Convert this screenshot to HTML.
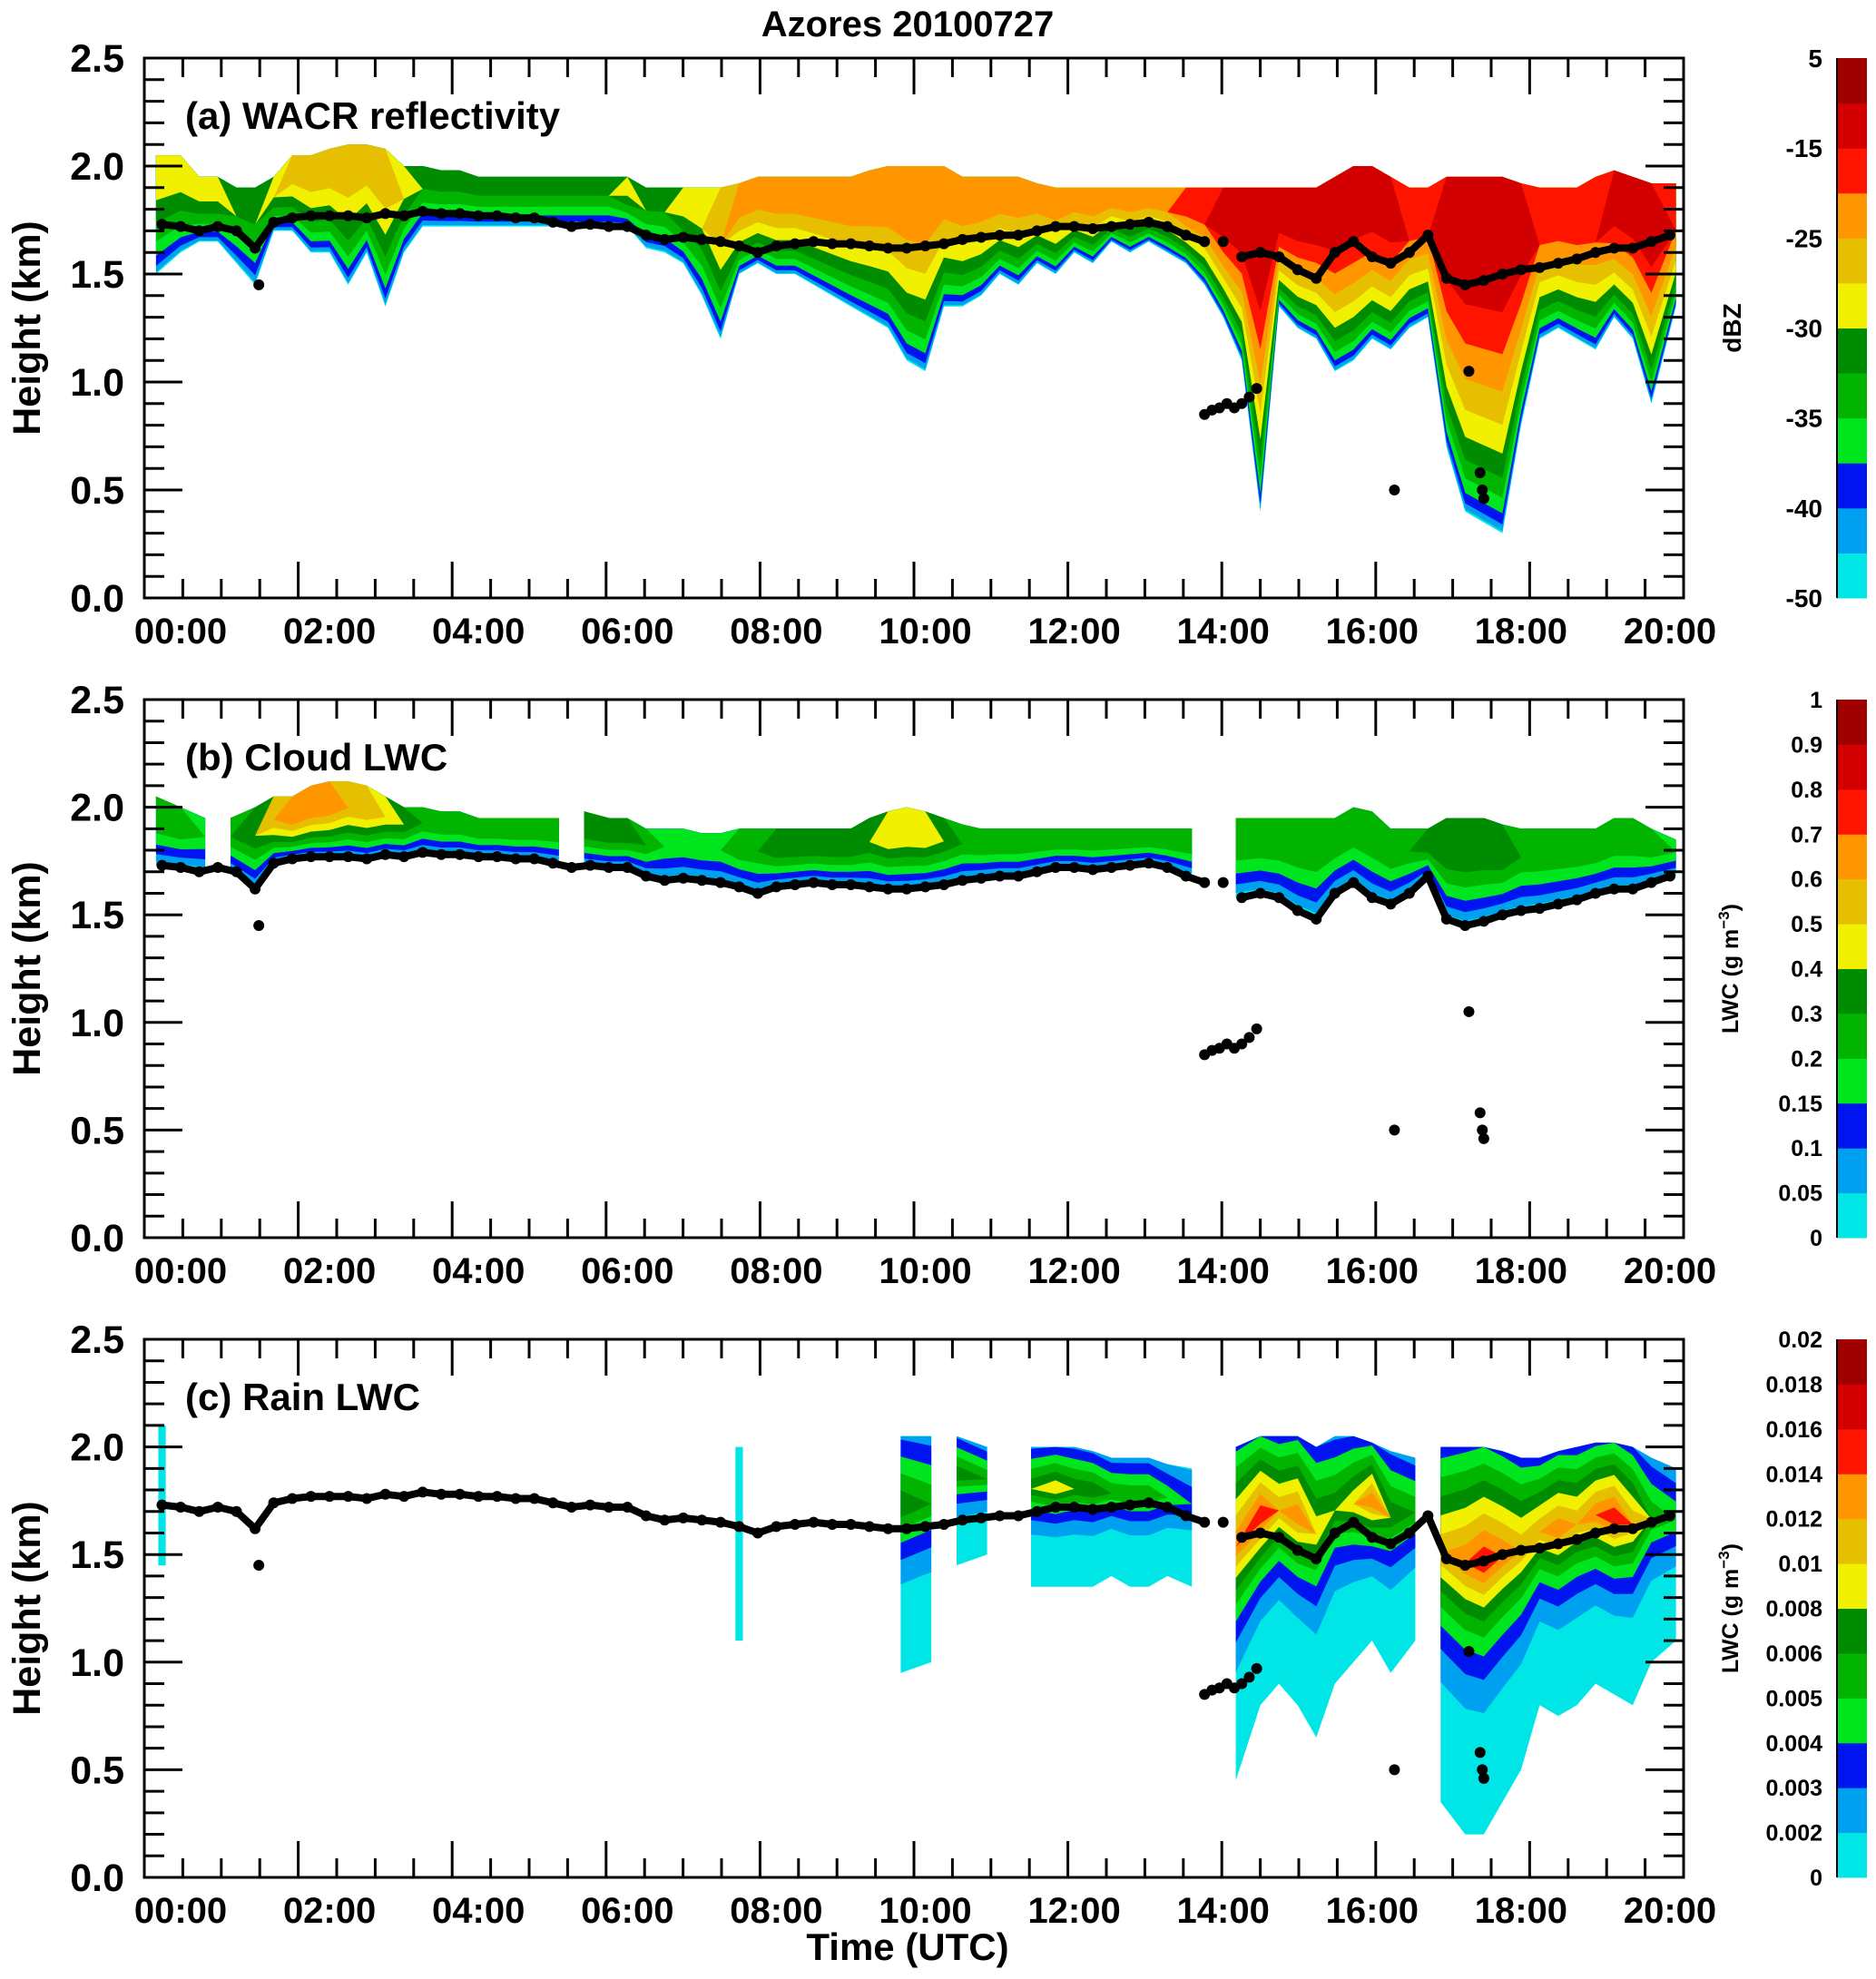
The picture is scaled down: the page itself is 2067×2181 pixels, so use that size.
<!DOCTYPE html>
<html><head><meta charset="utf-8"><style>
html,body{margin:0;padding:0;background:#fff}
svg{display:block;font-family:"Liberation Sans",Arial,sans-serif;font-weight:bold}
</style></head><body>
<svg id="fig" width="2067" height="2181" viewBox="0 0 2067 2181" xmlns="http://www.w3.org/2000/svg">
<text x="1000" y="40" font-size="40" text-anchor="middle">Azores 20100727</text>
</svg>
<script>
// ---------- data ----------
const times = [-0.25,0,0.25,0.5,0.75,1,1.25,1.5,1.75,2,2.25,2.5,2.75,3,3.25,3.5,3.75,4,4.25,4.5,4.75,5,5.25,5.5,5.75,6,6.25,6.5,6.75,7,7.25,7.5,7.75,8,8.25,8.5,8.75,9,9.25,9.5,9.75,10,10.25,10.5,10.75,11,11.25,11.5,11.75,12,12.25,12.5,12.75,13,13.25,13.5,13.75,14,14.25,14.5,14.75,15,15.25,15.5,15.75,16,16.25,16.5,16.75,17,17.25,17.5,17.75,18,18.25,18.5,18.75,19,19.25,19.5,19.75,20];
// panel a: reflectivity
const reflTop = [2.05,2.05,1.95,1.95,1.9,1.9,1.95,2.05,2.05,2.08,2.1,2.1,2.08,2.0,2.0,1.98,1.98,1.95,1.95,1.95,1.95,1.95,1.95,1.95,1.95,1.95,1.9,1.9,1.9,1.9,1.9,1.92,1.95,1.95,1.95,1.95,1.95,1.95,1.98,2.0,2.0,2.0,2.0,1.95,1.95,1.95,1.95,1.92,1.9,1.9,1.9,1.9,1.9,1.9,1.9,1.9,1.9,1.9,1.9,1.9,1.9,1.9,1.9,1.95,2.0,2.0,1.95,1.9,1.9,1.95,1.95,1.95,1.95,1.92,1.9,1.9,1.9,1.95,1.98,1.95,1.92,1.92];
const reflBase = [1.5,1.6,1.65,1.65,1.55,1.45,1.7,1.7,1.6,1.6,1.45,1.6,1.35,1.6,1.72,1.72,1.72,1.72,1.72,1.72,1.72,1.72,1.72,1.72,1.72,1.72,1.62,1.6,1.55,1.4,1.2,1.5,1.55,1.5,1.5,1.45,1.4,1.35,1.3,1.25,1.1,1.05,1.35,1.35,1.4,1.5,1.45,1.55,1.5,1.6,1.55,1.65,1.6,1.65,1.6,1.55,1.45,1.3,1.1,0.4,1.35,1.25,1.2,1.05,1.1,1.2,1.15,1.25,1.3,0.7,0.4,0.35,0.3,0.8,1.2,1.25,1.2,1.15,1.3,1.2,0.9,1.35];
const reflPeak = [6,6,6,6,5,5,6,7,7,7,7,7,7,6,5,5,5,5,5,5,5,5,5,5,5,6,5,5,6,6,7,8,8,8,8,8,8,8,8,8,8,8,8,8,8,8,8,8,8,8,8,8,8,8,8,9,9,10,10,10,10,10,10,10,10,10,10,9,9,10,10,10,10,10,9,9,9,9,10,10,10,9];
// panel b: cloud LWC
const cloudTop = [2.05,2.0,1.95,null,1.95,2.0,2.05,2.05,2.1,2.12,2.12,2.1,2.05,2.0,2.0,1.98,1.98,1.95,1.95,1.95,1.95,1.95,null,1.98,1.95,1.95,1.9,1.9,1.9,1.88,1.88,1.9,1.9,1.9,1.9,1.9,1.9,1.9,1.95,1.98,2.0,1.98,1.95,1.92,1.9,1.9,1.9,1.9,1.9,1.9,1.9,1.9,1.9,1.9,1.9,1.9,null,null,1.95,1.95,1.95,1.95,1.95,1.95,2.0,1.98,1.9,1.9,1.9,1.95,1.95,1.95,1.92,1.9,1.9,1.9,1.9,1.9,1.95,1.95,1.9,1.85];
const cloudPeak = [5,5,4,null,5,6,8,9,9,9,8,8,7,6,5,5,5,5,5,5,5,5,null,6,6,6,5,4,4,4,4,5,5,6,6,6,6,6,6,7,7,7,6,5,5,5,5,5,5,5,5,5,5,5,5,5,null,null,5,5,5,5,5,5,5,5,5,5,6,6,6,6,6,5,5,5,5,5,5,5,5,4];
// panel c: rain LWC
const rainTop = [2.1,null,null,null,null,null,null,null,null,null,null,null,null,null,null,null,null,null,null,null,null,null,null,null,null,null,null,null,null,null,null,2.0,null,null,null,null,null,null,null,null,2.05,2.05,null,2.05,2.0,null,null,2.0,2.0,2.0,1.98,1.95,1.95,1.95,1.92,1.9,null,null,2.0,2.05,2.05,2.05,2.0,2.05,2.05,2.02,1.98,1.95,null,2.0,2.0,2.0,1.98,1.95,1.95,1.98,2.0,2.02,2.02,2.0,1.95,1.9];
const rainBase = [1.45,null,null,null,null,null,null,null,null,null,null,null,null,null,null,null,null,null,null,null,null,null,null,null,null,null,null,null,null,null,null,1.1,null,null,null,null,null,null,null,null,0.95,1.0,null,1.45,1.5,null,null,1.35,1.35,1.35,1.35,1.4,1.35,1.35,1.4,1.35,null,null,0.45,0.8,0.9,0.8,0.65,0.9,1.0,1.1,0.95,1.1,null,0.35,0.2,0.2,0.35,0.5,0.8,0.75,0.8,0.9,0.85,0.8,1.0,1.1];
const rainPeak = [0,null,null,null,null,null,null,null,null,null,null,null,null,null,null,null,null,null,null,null,null,null,null,null,null,null,null,null,null,null,null,0,null,null,null,null,null,null,null,null,6,5,null,6,5,null,null,6,7,6,6,5,5,5,4,3,null,null,9,10,8,9,7,6,7,9,6,5,null,8,9,10,9,8,8,9,8,9,10,8,5,4];
// cloud-base (ceilometer) dots
const ceilH = [1.73,1.72,1.7,1.72,1.7,1.62,1.74,1.76,1.77,1.77,1.77,1.76,1.78,1.77,1.79,1.78,1.78,1.77,1.77,1.76,1.76,1.74,1.72,1.73,1.72,1.72,1.68,1.66,1.67,1.66,1.65,1.63,1.6,1.63,1.64,1.65,1.64,1.64,1.63,1.62,1.62,1.63,1.64,1.66,1.67,1.68,1.68,1.7,1.72,1.72,1.71,1.72,1.73,1.74,1.72,1.68,1.65,null,1.58,1.6,1.58,1.52,1.48,1.6,1.65,1.58,1.55,1.6,1.68,1.48,1.45,1.47,1.5,1.52,1.53,1.55,1.57,1.6,1.62,1.62,1.65,1.68];
const extraDotT = [1.05,13.75,13.85,13.95,14.05,14.15,14.25,14.35,14.45,14.0,16.3,17.3,17.45,17.48,17.5];
const extraDotH = [1.45,0.85,0.87,0.88,0.9,0.88,0.9,0.93,0.97,1.65,0.5,1.05,0.58,0.5,0.46];
// colorbars
const dbzLabels = ["5","-15","-25","-30","-35","-40","-50"];
const dbzLabelIdx = [12,10,8,6,4,2,0];
const cloudLabels = ["0","0.05","0.1","0.15","0.2","0.3","0.4","0.5","0.6","0.7","0.8","0.9","1"];
const rainLabels = ["0","0.002","0.003","0.004","0.005","0.006","0.008","0.01","0.012","0.014","0.016","0.018","0.02"];
const palette = ["#00e6e6","#00a0f0","#0014f0","#00e61e","#00b400","#008c00","#f0f000","#e6c000","#ff9600","#ff1400","#d20000","#a00000"];

// ---------- layout ----------
const svg = document.getElementById('fig');
const NS = 'http://www.w3.org/2000/svg';
const L = 159, R = 1855;
const panels = [
  {top:64, bot:659, label:"(a) WACR  reflectivity", top_:reflTop, base:reflBase, peak:reflPeak, pf:0.62, tf:1, ex:2.0, name:'reflectivity'},
  {top:771, bot:1364, label:"(b) Cloud LWC", top_:cloudTop, base:null, peak:cloudPeak, pf:0.65, tf:0.9, ex:1.5, name:'cloud-lwc'},
  {top:1476, bot:2069, label:"(c) Rain LWC", top_:rainTop, base:rainBase, peak:rainPeak, pf:0.7, tf:0.3, ex:0.35, name:'rain-lwc'}
];
function xs(h){ return 199 + h*82.05; }
function mk(tag, attrs, parent){ const e=document.createElementNS(NS,tag); for(const k in attrs) e.setAttribute(k,attrs[k]); (parent||svg).appendChild(e); return e; }

panels.forEach((p,pi)=>{
  const ys = z => p.bot - z*(p.bot-p.top)/2.5;
  const g = mk('g',{});
  
  
  const cid='clip'+pi;
  const cp=mk('clipPath',{id:cid},g); mk('rect',{x:L,y:p.top,width:R-L,height:p.bot-p.top},cp);
  const field=mk('g',{'clip-path':'url(#'+cid+')'},g);
  
  
  const baseArr = p.base || ceilH;
  const runs=[]; let cur=[];
  times.forEach((t,i)=>{ if(p.top_[i]!=null && baseArr[i]!=null && p.peak[i]!=null){cur.push(i);} else { if(cur.length) runs.push(cur); cur=[]; } });
  if(cur.length) runs.push(cur);
  runs.forEach(run=>{
    const pts = run.length===1 ? [{i:run[0],t:times[run[0]]-0.05},{i:run[0],t:times[run[0]]+0.05}] : run.map(i=>({i,t:times[i]}));
    if(run.length>1){ pts[0].t-=0.08; pts[pts.length-1].t+=0.08; }
    for(let k=0;k<12;k++){
      const up=[], lo=[];
      let any=false;
      pts.forEach(q=>{
        const T=p.top_[q.i], B=baseArr[q.i], P=p.peak[q.i];
        const zp = B + p.pf*(T-B);
        const Pt = P*p.tf;
        let zl, zh;
        if(k>P || (P===0 && k>0)){ zl=zp; zh=zp; }
        else {
          any=true;
          zl = P>0 ? B + Math.pow(k/P, p.ex)*(zp-B) : B;
          zh = k<=Pt ? T : zp + (P-k)/(P-Pt)*(T-zp);
        }
        up.push([xs(q.t),ys(zh)]); lo.push([xs(q.t),ys(zl)]);
      });
      if(!any) continue;
      const d='M'+up.map(a=>a[0].toFixed(1)+','+a[1].toFixed(1)).join('L')+'L'+lo.reverse().map(a=>a[0].toFixed(1)+','+a[1].toFixed(1)).join('L')+'Z';
      const path=mk('path',{d:d,fill:palette[k]},field);
      
      
    }
  });
  const dg=mk('g',{'clip-path':'url(#'+cid+')'},g);
  
  
  let seg=[];
  const flush=()=>{ if(seg.length>1){ const pl=mk('polyline',{points:seg.join(' '),fill:'none',stroke:'#000','stroke-width':8,'stroke-linejoin':'round','stroke-linecap':'round'},dg);
      
       } seg=[]; };
  times.forEach((t,i)=>{ if(ceilH[i]==null){flush();return;} seg.push(xs(t).toFixed(1)+','+ys(ceilH[i]).toFixed(1));
    const c=mk('circle',{cx:xs(t),cy:ys(ceilH[i]),r:6,fill:'#000'},dg);
    
     });
  flush();
  extraDotT.forEach((t,i)=>{ const c=mk('circle',{cx:xs(t),cy:ys(extraDotH[i]),r:6,fill:'#000'},dg);
    
     });
  const fr=mk('rect',{x:L,y:p.top,width:R-L,height:p.bot-p.top,fill:'none',stroke:'#000','stroke-width':3},g);
  
  
  const ax=mk('g',{stroke:'#000','stroke-width':3},g);
  
  
  for(let j=0;j<=25;j++){ const y=ys(j*0.1); const len=(j%5===0)?42:22;
    mk('line',{x1:L,y1:y,x2:L+len,y2:y},ax); mk('line',{x1:R,y1:y,x2:R-len,y2:y},ax);
    if(j%5===0){ const tx=mk('text',{x:137,y:y+15,'font-size':43,'text-anchor':'end',stroke:'none',fill:'#000'},g); tx.textContent=(j/10).toFixed(1);
      
       } }
  for(let j=0;j*42.4<=R-L+1;j++){ const x=L+j*42.4; const len=(j%4===0)?40:21;
    mk('line',{x1:x,y1:p.bot,x2:x,y2:p.bot-len},ax); mk('line',{x1:x,y1:p.top,x2:x,y2:p.top+len},ax); }
  for(let h=0;h<=20;h+=2){ const tx=mk('text',{x:xs(h),y:p.bot+50,'font-size':40,'text-anchor':'middle'},g); tx.textContent=(h<10?'0':'')+h+':00';
    
     }
  const yt=mk('text',{x:0,y:0,'font-size':43,'text-anchor':'middle',transform:`translate(44,${(p.top+p.bot)/2}) rotate(-90)`},g); yt.textContent='Height (km)';
  
  
  const pl=mk('text',{x:204,y:p.top+78,'font-size':42},g); pl.textContent=p.label;
  
  
  const cb=mk('g',{},g);
  
  
  const cx0=2024, cw=33, H=p.bot-p.top;
  for(let k=0;k<12;k++){ const r=mk('rect',{x:cx0,y:p.bot-(k+1)*H/12,width:cw,height:H/12+0.5,fill:palette[k]},cb);
    
     }
  mk('line',{x1:cx0,y1:p.top,x2:cx0,y2:p.bot,stroke:'#000','stroke-width':2},cb);
  if(pi===0){
    dbzLabels.forEach((s,i)=>{ const t=mk('text',{x:2008,y:p.bot-dbzLabelIdx[i]*H/12+10,'font-size':28,'text-anchor':'end'},cb); t.textContent=s;
      
       });
    const tt=mk('text',{x:0,y:0,'font-size':28,'text-anchor':'middle',transform:`translate(1918,${(p.top+p.bot)/2}) rotate(-90)`},cb); tt.textContent='dBZ';
    
    
  } else {
    const labs = pi===1?cloudLabels:rainLabels;
    labs.forEach((s,i)=>{ const t=mk('text',{x:2008,y:p.bot-i*H/12+9,'font-size':25,'text-anchor':'end'},cb); t.textContent=s;
      
       });
    const tt=mk('text',{x:0,y:0,'font-size':25,'text-anchor':'middle',transform:`translate(1915,${(p.top+p.bot)/2}) rotate(-90)`},cb);
    tt.innerHTML='LWC (g m<tspan dy="-10" font-size="17">−3</tspan><tspan dy="10">)</tspan>';
    
    
  }
});
const xt=mk('text',{x:1000,y:2160,'font-size':42,'text-anchor':'middle'}); xt.textContent='Time (UTC)';


</script>
</body></html>
